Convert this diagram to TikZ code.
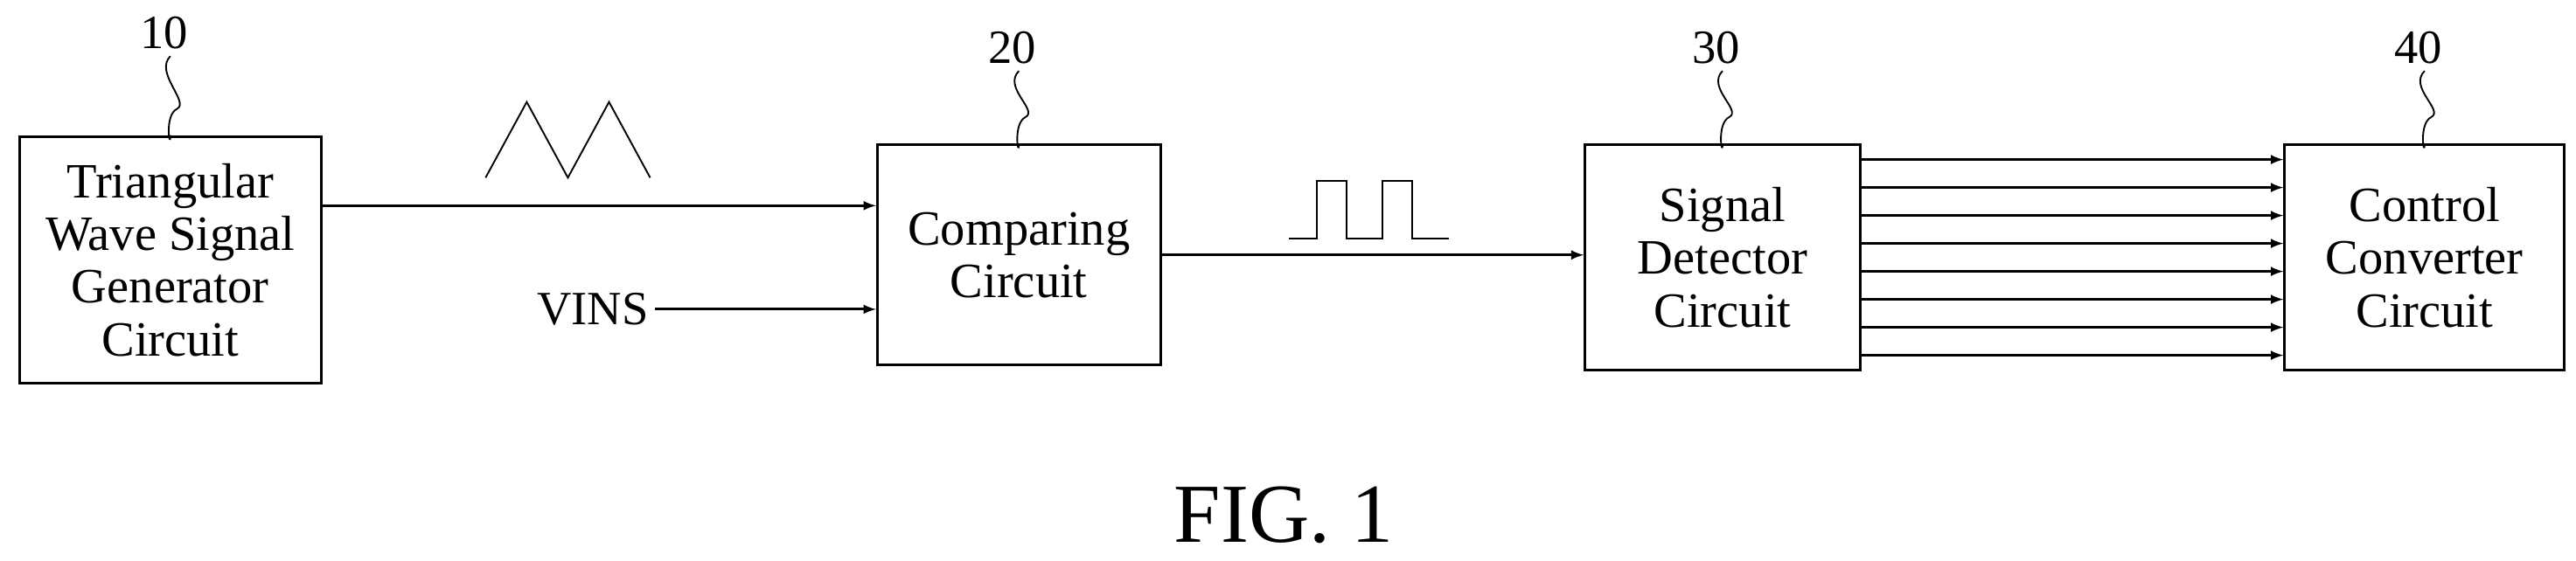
\documentclass[tikz,border=0pt]{standalone}
\usepackage{fontspec}
\setmainfont{Liberation Serif}
\begin{document}
\begin{tikzpicture}[x=1pt,y=-1pt,line width=1.6pt,
  blk/.style={draw,line width=1.6pt,inner sep=0pt,align=center,font=\rmfamily\fontsize{30}{32}\selectfont},
  num/.style={font=\rmfamily\fontsize{29}{30}\selectfont},
  sig/.style={-latex}]
\useasboundingbox (0,0) rectangle (1565,341);
% Blocks
\node[blk,minimum width=183pt,minimum height=150pt] (gen) at (103.5,158) {Triangular\\Wave Signal\\Generator\\Circuit};
\node[blk,minimum width=172pt,minimum height=134pt] (cmp) at (619,155) {Comparing\\Circuit};
\node[blk,minimum width=167pt,minimum height=137pt] (det) at (1046.5,156.5) {Signal\\Detector\\Circuit};
\node[blk,minimum width=170pt,minimum height=137pt] (cnv) at (1473,156.5) {Control\\Converter\\Circuit};
% Reference numerals
\foreach \n/\b/\d in {10/gen/62,20/cmp/58,30/det/58,40/cnv/58}{
  \node[num] (n\n) at ([xshift=-4pt,yshift=\d pt]\b.north) {\n};
  \draw[line width=1pt] ([xshift=4pt]n\n.south) .. controls +(-10,10) and +(8,-4) .. ([xshift=4pt,yshift=16pt]\b.north)
     .. controls +(-8,4) and +(0,10) .. (\b.north);
}
% Signals
\draw[sig] (gen.east |- 0,125) -- (cmp.west |- 0,125);
\node[num,anchor=east] (vins) at (398,188) {VINS};
\draw[sig] (vins.east) -- (cmp.west |- vins.east);
\draw[sig] (cmp.east |- 0,155) -- (det.west |- 0,155);
\foreach \k in {0,...,7}
  \draw[sig] (det.east |- 0,97+17*\k) -- (cnv.west |- 0,97+17*\k);
% Waveforms
\draw[line width=1pt] (295,108) -- (320,62) -- (345,108) -- (370,62) -- (395,108);
\draw[line width=1pt] (783,145) -- (800,145) -- (800,110) -- (818,110) -- (818,145) -- (840,145) -- (840,110) -- (858,110) -- (858,145) -- (880,145);
\node[font=\rmfamily\fontsize{51}{55}\selectfont] (fig) at (780,313) {FIG. 1};
\end{tikzpicture}
\end{document}
